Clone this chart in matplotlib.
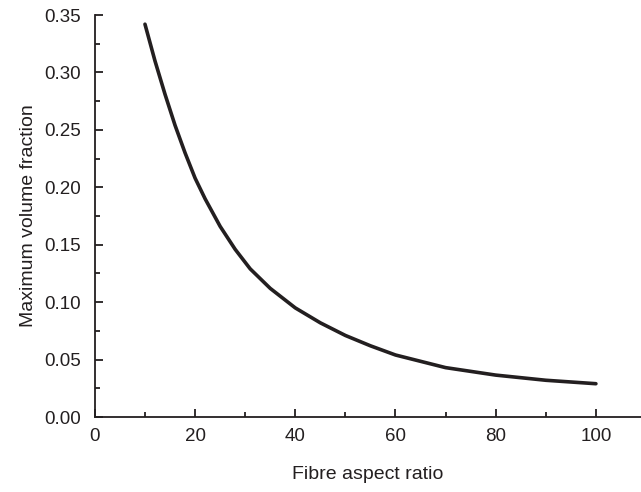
import matplotlib
matplotlib.use("Agg")
import matplotlib.pyplot as plt
from matplotlib.ticker import MultipleLocator, FormatStrFormatter

# values
aspect_ratio = [10, 12, 14, 16, 18, 20, 22, 25, 28, 31, 35, 40, 45, 50,
                55, 60, 70, 80, 90, 100]
max_vol_frac = [0.342, 0.310, 0.281, 0.254, 0.230, 0.208, 0.190, 0.166, 0.146,
                0.129, 0.112, 0.095, 0.082, 0.071, 0.062, 0.054, 0.043, 0.0365,
                0.032, 0.029]

ink = "#231f20"
plt.rcParams["font.family"] = ["Liberation Sans", "DejaVu Sans"]

fig = plt.figure(figsize=(6.41, 4.92), dpi=100)
ax = fig.add_axes([0.148, 0.1524, 0.852, 0.8171])

ax.plot(aspect_ratio, max_vol_frac, color=ink, lw=2.6,
        solid_capstyle="round", solid_joinstyle="round")

ax.set_xlim(0, 109)
ax.set_ylim(0, 0.35)
ax.xaxis.set_major_locator(MultipleLocator(20))
ax.xaxis.set_minor_locator(MultipleLocator(10))
ax.yaxis.set_major_locator(MultipleLocator(0.05))
ax.yaxis.set_minor_locator(MultipleLocator(0.025))
ax.yaxis.set_major_formatter(FormatStrFormatter("%.2f"))

for s in ["top", "right"]:
    ax.spines[s].set_visible(False)
for s in ["left", "bottom"]:
    ax.spines[s].set_linewidth(1.3)
    ax.spines[s].set_color(ink)

ax.tick_params(which="major", direction="in", length=6, width=1.3, color=ink,
               labelcolor=ink, labelsize=13.5)
ax.tick_params(axis="y", which="major", pad=10)
ax.tick_params(axis="x", which="major", pad=8)
ax.tick_params(which="minor", direction="in", length=3.5, width=1.3, color=ink)

ax.set_xlabel("Fibre aspect ratio", color=ink, fontsize=14, labelpad=15)
ax.set_ylabel("Maximum volume fraction", color=ink, fontsize=14, labelpad=5)

fig.savefig("out.png", dpi=100)
